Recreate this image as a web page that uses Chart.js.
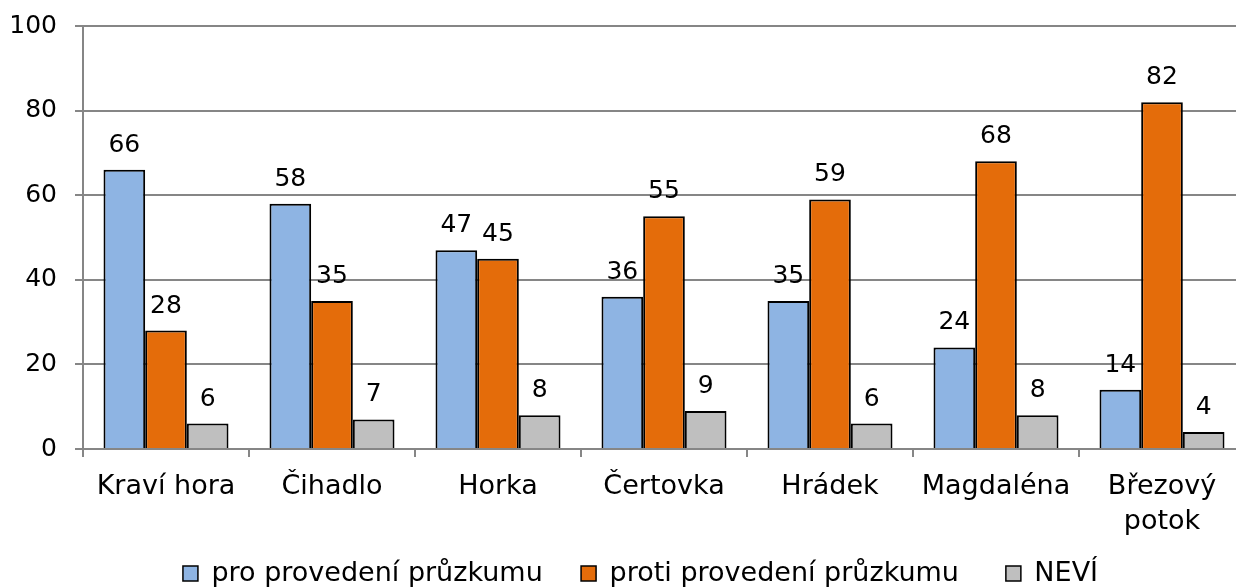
<!DOCTYPE html>
<html><head><meta charset="utf-8">
<script src="https://cdn.jsdelivr.net/npm/chart.js@4.4.0/dist/chart.umd.min.js"></script>
<style>html,body{margin:0;padding:0;overflow:hidden;background:#fff}#wrap{width:1250px;height:587px;position:relative}</style>
</head><body><div id="wrap"><canvas id="c" width="1250" height="587"></canvas></div>
<script>
const categories = ['Kraví hora','Čihadlo','Horka','Čertovka','Hrádek','Magdaléna',['Březový','potok']];
const seriesNames = ['pro provedení průzkumu','proti provedení průzkumu','NEVÍ'];
const proValues = [66,58,47,36,35,24,14];
const protiValues = [28,35,45,55,59,68,82];
const neviValues = [6,7,8,9,6,8,4];
const yTicks = [0,20,40,60,80,100];

const FONT = 'DejaVu Sans, Verdana, sans-serif';
const valueLabels = {
  id:'valueLabels',
  afterDatasetsDraw(chart){
    const ctx = chart.ctx;
    ctx.save();
    ctx.font = '25px ' + FONT;
    ctx.fillStyle = '#000';
    ctx.textAlign = 'center';
    ctx.textBaseline = 'alphabetic';
    chart.data.datasets.forEach((ds,i)=>{
      chart.getDatasetMeta(i).data.forEach((el,j)=>{
        ctx.fillText(String(ds.data[j]), el.x, el.y - 18);
      });
    });
    ctx.restore();
  }
};
const legendShift = {
  id:'legendShift',
  afterLayout(chart){
    if(chart.legend){ chart.legend.left += 18; chart.legend.right += 18; }
  }
};

new Chart(document.getElementById('c'), {
  type:'bar',
  data:{
    labels: categories,
    datasets:[
      {label:seriesNames[0], data:proValues, backgroundColor:'#8EB4E3', borderColor:'#000', borderWidth:2},
      {label:seriesNames[1], data:protiValues, backgroundColor:'#E46C0A', borderColor:'#000', borderWidth:2},
      {label:seriesNames[2], data:neviValues, backgroundColor:'#BFBFBF', borderColor:'#000', borderWidth:2}
    ]
  },
  options:{
    responsive:false, animation:false,
    devicePixelRatio:1,
    layout:{padding:{left:0,right:5,top:26,bottom:-10}},
    datasets:{bar:{categoryPercentage:0.753,barPercentage:1}},
    plugins:{
      tooltip:{enabled:false},
      legend:{position:'bottom',
        labels:{font:{family:FONT,size:27},color:'#000',boxWidth:15,boxHeight:15,padding:4,
          generateLabels(chart){
            const items = Chart.defaults.plugins.legend.labels.generateLabels(chart);
            const pads = ['    ','     ',''];
            items.forEach((it,i)=>{ it.lineWidth = 1.5; it.strokeStyle = '#000'; it.text = it.text + pads[i]; });
            return items;
          }
        }
      }
    },
    scales:{
      x:{
        afterFit(s){s.height=107;},
        grid:{drawOnChartArea:false,drawTicks:true,tickLength:8,color:'#868686',lineWidth:2,offset:true},
        border:{color:'#868686',width:2},
        ticks:{font:{family:FONT,size:27,lineHeight:1.3},color:'#000',padding:12,maxRotation:0,autoSkip:false}
      },
      y:{
        min:0,max:100,
        afterFit(s){s.width=83; s.paddingTop=0; s.paddingBottom=0;},
        afterBuildTicks(s){s.ticks = yTicks.map(v=>({value:v}));},
        grid:{color:'#868686',lineWidth:2,tickLength:8},
        border:{color:'#868686',width:2},
        ticks:{font:{family:FONT,size:25},color:'#000',padding:18}
      }
    }
  },
  plugins:[valueLabels, legendShift]
});
</script></body></html>
